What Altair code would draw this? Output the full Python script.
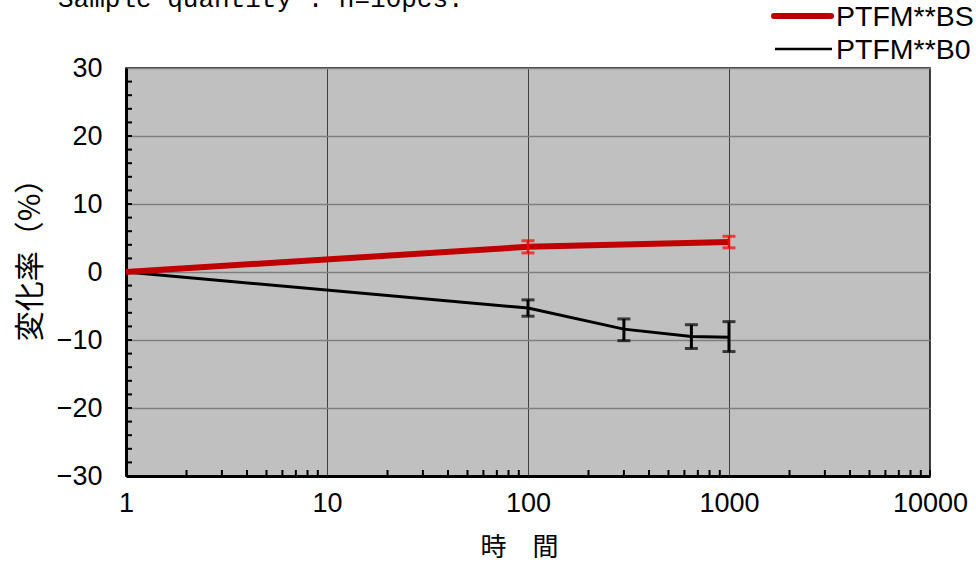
import altair as alt
import pandas as pd

# ---- data ----
bs_t = [1, 100, 1000]
bs_v = [0.0, 3.7, 4.4]
bs_err_t = [100, 1000]
bs_err_v = [3.7, 4.4]
bs_err_e = [0.9, 0.85]

b0_t = [1, 100, 300, 650, 1000]
b0_v = [0.0, -5.3, -8.4, -9.5, -9.6]
b0_err_t = [100, 300, 650, 1000]
b0_err_v = [-5.3, -8.5, -9.5, -9.5]
b0_err_e = [1.2, 1.6, 1.75, 2.2]

x_labels = [1, 10, 100, 1000, 10000]
y_labels = [-30, -20, -10, 0, 10, 20, 30]
y_minor = [v for v in range(-28, 30, 2)]
decades = [1, 10, 100, 1000]
x_minor = [d * m for d in decades for m in range(2, 10)]

legend_names = ["PTFM**BS", "PTFM**B0"]
note_text = "Sample quantity  :  n=10pcs."

W, H = 804, 408
NUM_FONT = "Liberation Sans"
CJK_FONT = "Noto Sans CJK JP"

xscale = alt.Scale(type="log", domain=[1, 10000], nice=False)
yscale = alt.Scale(domain=[-30, 30], nice=False, zero=False)

x_axis = alt.Axis(
    values=x_labels, format="d", title="時\u3000間", grid=True, ticks=False,
    gridColor="#404040", gridWidth=1, domainColor="black", domainWidth=3,
    labelFont=NUM_FONT, labelFontSize=27, labelColor="black", labelPadding=14,
    labelFlush=False,
    titleFont=CJK_FONT, titleFontSize=26, titleFontWeight="normal", titleColor="black",
    titleX=393, titleY=71, titleBaseline="middle", titleAlign="center",
)
y_axis = alt.Axis(
    values=y_labels, format="d", title="変化率（%）", grid=True, ticks=False,
    gridColor="#7f7f7f", gridWidth=1.5, domainColor="black", domainWidth=3,
    labelFont=NUM_FONT, labelFontSize=27, labelColor="black", labelPadding=24,
    labelFlush=False,
    titleFont=CJK_FONT, titleFontSize=30, titleFontWeight="normal", titleColor="black",
    titleX=-96, titleY=184, titleBaseline="middle", titleAlign="center", titleAngle=-90,
)

X = lambda f: alt.X(f"{f}:Q", scale=xscale, axis=x_axis)
Y = lambda f: alt.Y(f"{f}:Q", scale=yscale, axis=y_axis)

bs_df = pd.DataFrame({"t": bs_t, "v": bs_v})
bs_err_df = pd.DataFrame({"t": bs_err_t, "v": bs_err_v, "e": bs_err_e})
b0_df = pd.DataFrame({"t": b0_t, "v": b0_v})
b0_err_df = pd.DataFrame({"t": b0_err_t, "v": b0_err_v, "e": b0_err_e})

# minor ticks, pointing inward
ytick_df = pd.DataFrame({"v": y_minor})
xtick_df = pd.DataFrame({"t": x_minor + [10000]})

ytick = alt.Chart(ytick_df).mark_rule(color="black", strokeWidth=2).encode(
    y=Y("v"), x=alt.value(0), x2=alt.value(6)
)
xtick = alt.Chart(xtick_df).mark_rule(color="black", strokeWidth=2).encode(
    x=X("t"), y=alt.value(H), y2=alt.value(H - 6)
)

b0_line = alt.Chart(b0_df).mark_line(color="black", strokeWidth=3).encode(
    x=X("t"), y=Y("v")
)
b0_err = alt.Chart(b0_err_df).mark_errorbar(
    color="black", thickness=3, ticks={"size": 13, "thickness": 3, "color": "black"}
).encode(x=X("t"), y=Y("v"), yError="e:Q")

bs_line = alt.Chart(bs_df).mark_line(color="#c00000", strokeWidth=6).encode(
    x=X("t"), y=Y("v")
)
bs_err = alt.Chart(bs_err_df).mark_errorbar(
    color="#ff0000", thickness=2.5, ticks={"size": 13, "thickness": 3, "color": "#ff0000"}
).encode(x=X("t"), y=Y("v"), yError="e:Q")

one = pd.DataFrame({"a": [0]})
leg_bs = alt.Chart(one).mark_rule(color="#c00000", strokeWidth=6, strokeCap="round").encode(
    x=alt.value(648), x2=alt.value(705), y=alt.value(-52)
)
leg_b0 = alt.Chart(one).mark_rule(color="black", strokeWidth=2.5).encode(
    x=alt.value(649), x2=alt.value(706), y=alt.value(-19)
)
leg_txt_bs = alt.Chart(pd.DataFrame({"name": [legend_names[0]]})).mark_text(
    font=NUM_FONT, fontSize=28.5, align="left", baseline="middle", color="black"
).encode(x=alt.value(710), y=alt.value(-51), text="name:N")
leg_txt_b0 = alt.Chart(pd.DataFrame({"name": [legend_names[1]]})).mark_text(
    font=NUM_FONT, fontSize=28.5, align="left", baseline="middle", color="black"
).encode(x=alt.value(710), y=alt.value(-18), text="name:N")
note = alt.Chart(pd.DataFrame({"txt": [note_text]})).mark_text(
    font="Liberation Mono", fontSize=26, align="left", baseline="alphabetic", color="black"
).encode(x=alt.value(-68), y=alt.value(-61), text="txt:N")

chart = alt.layer(
    ytick, xtick, b0_line, b0_err, bs_line, bs_err,
    leg_bs, leg_b0, leg_txt_bs, leg_txt_b0, note
).properties(
    width=W, height=H,
    padding={"left": 126, "top": 68, "right": 46, "bottom": 89},
    autosize=alt.AutoSizeParams(type="none"),
    background="white",
).configure_view(
    fill="#c0c0c0", stroke="black", strokeWidth=1.5
)

chart.save("out.html", embed_options={"renderer": "svg", "actions": False})
